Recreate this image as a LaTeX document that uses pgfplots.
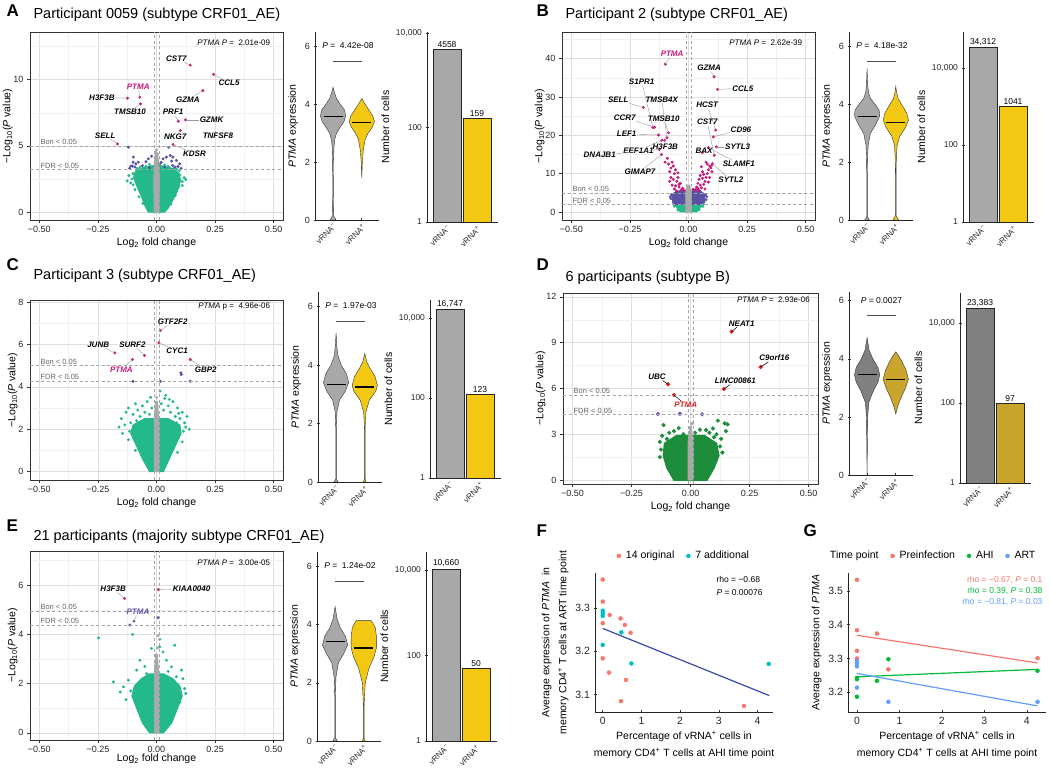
\documentclass[border=0pt]{standalone}
\usepackage{fontspec}
\setmainfont{Liberation Sans}
\usepackage{pgfplots}
\pgfplotsset{compat=1.18}
\newcommand{\fs}[1]{\fontsize{#1}{#1}\selectfont}
\definecolor{vgreen}{HTML}{23B98B}
\definecolor{vpurple}{HTML}{5A51A6}
\definecolor{vmag}{HTML}{C8177A}
\definecolor{vgraypt}{HTML}{A9A9A9}
\definecolor{dgreen}{HTML}{1D8D3C}
\definecolor{dred}{HTML}{E3211C}
\definecolor{dpurple}{HTML}{7B50B0}
\definecolor{vlgray}{HTML}{A8A8A8}
\definecolor{vyel}{HTML}{F2C813}
\definecolor{dgray}{HTML}{808080}
\definecolor{dgold}{HTML}{C9A52B}
\definecolor{fred}{HTML}{F8766D}
\definecolor{fteal}{HTML}{00BFC4}
\definecolor{fblue}{HTML}{3949AB}
\definecolor{ggreen}{HTML}{00BA38}
\definecolor{gblue}{HTML}{619CFF}
\tikzset{glabel/.style={font=\fs{8}\bfseries\itshape, inner sep=0.8pt},
  refl/.style={black!35, line width=0.6pt, dash pattern=on 3pt off 2.5pt}}
\newcommand{\glab}[4][black]{\node[glabel, text=#1] (g) at (axis cs:#2) {#4}; \draw[black!40, line width=0.4pt] (g) -- (axis cs:#3);}
\newcommand{\glabk}[4][black]{\node[glabel, text=#1] (g) at (axis cs:#2) {#4}; \draw[black, line width=0.5pt] (g) -- (axis cs:#3);}
\newcommand{\vls}{\draw[refl] ({axis cs:-0.011,0}|-{rel axis cs:0,0}) -- ({axis cs:-0.011,0}|-{rel axis cs:0,1}); \draw[refl] ({axis cs:0.011,0}|-{rel axis cs:0,0}) -- ({axis cs:0.011,0}|-{rel axis cs:0,1});}
\newcommand{\hls}[1]{\draw[refl] ({rel axis cs:0,0}|-{axis cs:0,#1}) -- ({rel axis cs:1,0}|-{axis cs:0,#1});}
\newcommand{\bonfdr}[2]{\hls{#1}\hls{#2}\node[anchor=south west, font=\fs{7.5}, text=black!60, inner sep=1pt] at (axis cs:-0.5,#1) {Bon < 0.05};\node[anchor=south west, font=\fs{7.5}, text=black!60, inner sep=1pt] at (axis cs:-0.5,#2) {FDR < 0.05};}
\pgfplotsset{
 /pgf/number format/assume math mode=true,
 base/.style={scale only axis, anchor=south west, tick align=outside, major tick length=3pt,
   tick style={black!80, line width=0.6pt}, ticklabel style={font=\fs{9}, text=black!85},
   label style={font=\fs{10.5}}},
 volc/.style={base, width=253pt, height=188pt, xmin=-0.54, xmax=0.54,
   axis line style={black!80, line width=0.9pt},
   grid=both, major grid style={black!13, line width=0.6pt}, minor grid style={black!6, line width=0.4pt},
   xtick={-0.5,-0.25,0,0.25,0.5}, minor xtick={-0.375,-0.125,0.125,0.375},
   xticklabels={−0.50,−0.25,0.00,0.25,0.50},
   tick pos=left, minor tick length=0pt,
   xlabel={Log\textsubscript{2} fold change}, xlabel style={yshift=2pt},
   ylabel={−Log\textsubscript{10}(\textit{P} value)}, ylabel shift=-6pt,
   clip mode=individual},
 mk/.style={only marks, mark=*, mark size=#1, mark options={draw=none}}, mk/.default=1.3pt,
 viol/.style={base, width=64pt, height=188pt, xmin=0.37, xmax=2.6, ymin=0, ymax=6.5,
   axis x line=bottom, axis y line=left, axis line style={-, black!85, line width=0.7pt},
   xtick={1,2}, xticklabels={vRNA\textsuperscript{−},vRNA\textsuperscript{+}},
   x tick label style={rotate=45, anchor=north east, font=\fs{8}, inner sep=1pt},
   ytick={0,2,4,6}, ylabel={\textit{PTMA} expression}, clip=false},
 cntbar/.style={base, width=71pt, xmin=0.333, xmax=2.7, ymin=1,
   axis x line=bottom, axis y line=left, axis line style={-, black!85, line width=0.7pt},
   xtick={1,2}, xticklabels={vRNA\textsuperscript{−},vRNA\textsuperscript{+}},
   x tick label style={rotate=45, anchor=north east, font=\fs{8}, inner sep=1pt},
   ytick={1,100,10000}, yticklabels={1,100,{10,000}}, y tick label style={font=\fs{8.5}},
   ylabel={Number of cells}},
 sc/.style={base, axis x line=bottom, axis y line=left, axis line style={-, black!85, line width=0.7pt},
   ticklabel style={font=\fs{10.5}}, label style={font=\fontsize{10.5}{17}\selectfont, align=center}, clip=false,
   legend style={draw=none, fill=none, legend columns=-1, anchor=south, font=\fs{10.5},
     /tikz/every odd column/.append style={column sep=3pt},
     /tikz/every even column/.append style={column sep=10pt}}},
}
\newcommand{\gbar}[6]{%
 \addplot[ybar, bar width=28pt, bar shift=0pt, fill=#1, draw=black!85, line width=0.5pt] coordinates {(1,#3)};
 \addplot[ybar, bar width=28pt, bar shift=0pt, fill=#2, draw=black!85, line width=0.5pt] coordinates {(2,#5)};
 \node[anchor=south, font=\fs{8.5}, inner sep=1.5pt] at (axis cs:1,#3) {#4};
 \node[anchor=south, font=\fs{8.5}, inner sep=1.5pt] at (axis cs:2,#5) {#6};}
\begin{document}
\begin{tikzpicture}
\path[use as bounding box] (0,0) rectangle (1050pt,770pt);
% ================= A volcano
\begin{axis}[volc, at={(30pt,550pt)}, ymin=-0.6, ymax=13.6, ytick={0,5,10}, minor ytick={2.5,7.5,12.5}]
\addplot[fill=vgreen, draw=vgreen, line width=1pt] coordinates {(-0.035,0) (-0.05,0.5) (-0.065,1.2) (-0.085,2.0) (-0.098,2.6) (-0.09,3.1) (-0.06,3.35) (-0.02,3.5) (0.02,3.5) (0.06,3.35) (0.095,3.0) (0.103,2.4) (0.09,1.6) (0.07,0.9) (0.05,0.3) (0.035,0)} -- cycle;
\addplot[mk, vgreen] coordinates {(-0.105,2.5) (-0.11,2.2) (-0.1,2.9) (-0.082,3.3) (0.1,2.8) (0.11,2.3) (0.098,3.15) (0.095,1.9) (-0.092,1.7) (-0.075,1.15) (0.08,1.25) (0.062,0.6) (-0.058,0.65) (0.118,2.6) (-0.118,2.75) (0.05,3.45) (-0.045,3.45) (-0.07,3.4) (0.075,3.3) (0.035,3.55) (-0.03,3.6) (0.11,2.0) (-0.1,2.05) (0.085,3.25) (0.125,2.45) (-0.125,2.35)};
\addplot[fill=vgraypt, draw=vgraypt, line width=0.8pt] coordinates {(-0.01,0) (-0.012,2.5) (-0.009,3.8) (-0.004,4.6) (0.003,4.5) (0.009,3.8) (0.012,2.5) (0.01,0)} -- cycle;
\addplot[mk, vgraypt] coordinates {(0.0,4.7) (0.005,4.35) (-0.006,4.1) (0.006,3.95)};
\addplot[mk, vpurple] coordinates {(-0.12,4.9) (-0.099,4.15) (-0.103,3.47) (-0.088,3.64) (-0.021,4.22) (-0.035,4.02) (0.028,4.02) (0.042,4.15) (0.07,4.15) (0.099,3.64) (0.052,4.9) (0.059,4.27) (0.085,3.9) (0.078,3.4) (-0.092,3.4) (-0.078,3.77) (-0.1,3.77) (0.014,3.64) (0.035,3.4) (0.068,3.52) (0.092,3.44) (-0.11,3.47) (-0.06,3.5) (-0.045,3.8) (0.02,3.75) (0.105,3.3) (-0.115,3.3) (0.065,3.85) (-0.03,3.35)};
\addplot[mk, vmag] coordinates {(-0.167,5.15) (-0.124,8.6) (-0.071,8.67) (-0.069,8.17) (0.144,11.1) (0.244,10.4) (0.198,9.17) (0.093,6.86) (0.124,6.96) (0.102,6.16) (0.071,5.1)};
\vls \bonfdr{5}{3.2}
\glab{0.085,11.6}{0.144,11.1}{CST7}
\glab{0.31,9.75}{0.244,10.4}{CCL5}
\glab{0.134,8.5}{0.198,9.17}{GZMA}
\glab[vmag]{-0.078,9.45}{-0.071,8.67}{PTMA}
\glab{-0.233,8.65}{-0.124,8.6}{H3F3B}
\glab{-0.113,7.55}{-0.069,8.17}{TMSB10}
\glab{0.071,7.55}{0.093,6.86}{PRF1}
\glab{0.235,6.96}{0.124,6.96}{GZMK}
\glab{0.08,5.7}{0.102,6.16}{NKG7}
\node[glabel] at (axis cs:0.262,5.75) {TNFSF8};
\glab{0.162,4.4}{0.071,5.1}{KDSR}
\glab{-0.219,5.8}{-0.167,5.15}{SELL}
\node[anchor=east, font=\fs{8}] at (axis cs:0.5,12.75) {\textit{PTMA} \textit{P} = ~2.01e-09};
\end{axis}
\begin{axis}[viol, at={(315pt,550pt)}]
\addplot[fill=vlgray, draw=black!80, line width=0.4pt] coordinates {(1.10,0) (1.02,0.15) (1.01,1.0) (1.015,2.0) (1.03,2.5) (1.06,2.8) (1.12,3.0) (1.24,3.2) (1.38,3.4) (1.44,3.6) (1.40,3.8) (1.25,4.0) (1.12,4.2) (1.05,4.4) (1.0,4.59) (0.95,4.4) (0.88,4.2) (0.75,4.0) (0.60,3.8) (0.56,3.6) (0.62,3.4) (0.76,3.2) (0.88,3.0) (0.94,2.8) (0.97,2.5) (0.985,2.0) (0.99,1.0) (0.98,0.15) (0.90,0)} -- cycle;
\addplot[fill=vyel, draw=black!80, line width=0.4pt] coordinates {(2.0,1.45) (2.02,2.0) (2.05,2.4) (2.12,2.8) (2.22,3.0) (2.36,3.2) (2.44,3.4) (2.38,3.6) (2.25,3.8) (2.12,4.0) (2.0,4.2) (1.88,4.0) (1.75,3.8) (1.62,3.6) (1.56,3.4) (1.64,3.2) (1.78,3.0) (1.88,2.8) (1.95,2.4) (1.98,2.0)} -- cycle;
\addplot[black, line width=1.1pt] coordinates {(0.67,3.59) (1.33,3.59)};
\addplot[black, line width=1.1pt] coordinates {(1.67,3.38) (2.33,3.38)};
\addplot[black!70, line width=0.6pt] coordinates {(1,5.5) (2,5.5)};
\node[anchor=west, font=\fs{8.5}] at (axis cs:0.5,6.03) {\textit{P} = ~4.42e-08};
\end{axis}
\begin{semilogyaxis}[cntbar, at={(427pt,548pt)}, height=190pt, ymax=10500]
\gbar{vlgray}{vyel}{4558}{4558}{159}{159}
\end{semilogyaxis}
% ================= B volcano
\begin{axis}[volc, at={(562pt,550pt)}, ymin=-2.1, ymax=47, ytick={0,10,20,30,40}, minor ytick={5,15,25,35,45}]
\addplot[fill=vgreen, draw=vgreen, line width=1pt] coordinates {(-0.035,0) (-0.048,1) (-0.058,2) (0.058,2) (0.048,1) (0.035,0)} -- cycle;
\addplot[mk, vgreen] coordinates {(-0.06,1.5) (0.06,1.4) (-0.045,0.5) (0.045,0.6) (-0.062,1.9) (0.063,1.95)};
\addplot[fill=vpurple, draw=vpurple, line width=1pt] coordinates {(-0.058,2) (-0.068,3) (-0.07,4) (-0.062,5) (-0.035,5.6) (0.035,5.6) (0.062,5) (0.07,4) (0.068,3) (0.058,2)} -- cycle;
\addplot[mk, vpurple] coordinates {(-0.075,3.5) (0.075,3.2) (-0.072,4.5) (0.072,4.6) (-0.065,2.5) (0.066,2.6) (-0.05,5.3) (0.05,5.3) (0.078,4.0) (-0.078,4.0)};
\addplot[fill=vgraypt, draw=vgraypt, line width=0.8pt] coordinates {(-0.011,0) (-0.012,5) (-0.005,7) (0.005,7) (0.012,5) (0.011,0)} -- cycle;
\addplot[mk, vmag] coordinates {(-0.03,5.8) (-0.04,6.5) (-0.035,7.5) (-0.05,8) (-0.045,9) (-0.06,10) (-0.055,11) (-0.065,12) (-0.07,13) (-0.075,11.5) (-0.08,10.5) (-0.06,6) (-0.05,5.5) (-0.07,7) (-0.085,12.5) (-0.09,14) (-0.1,13) (-0.075,9) (-0.025,6.2) (-0.04,7.2) (-0.065,8.5) (-0.055,6.8) (-0.08,8) (-0.045,10.2) (-0.02,5.7) (0.03,5.8) (0.035,6.5) (0.04,7.5) (0.045,8.5) (0.05,9.5) (0.06,10.5) (0.055,6.3) (0.065,7.2) (0.07,8) (0.075,9) (0.08,10) (0.085,11) (0.09,12) (0.095,11.5) (0.1,10.5) (0.08,12.5) (0.05,7) (0.06,8.8) (0.07,6) (0.045,5.6) (0.1,12.2) (0.085,7.8) (0.02,5.9) (0.04,6.1) (0.065,9.8) (0.09,9) (0.055,11.8) (0.075,13) (-0.099,38.6) (0.109,35.3) (0.124,32) (-0.152,22.1) (-0.193,27.3) (-0.092,19.4) (-0.145,22.1) (-0.085,20.7) (-0.128,20.1) (-0.114,18.7) (-0.102,18.7) (-0.125,16.3) (-0.115,15.0) (0.116,21.4) (0.11,14.8) (0.106,19.6) (0.119,17) (0.06,15.5) (0.085,16.8) (0.102,12.6)};
\vls \bonfdr{5}{1.9}
\glab[vmag]{-0.07,41.2}{-0.099,38.6}{PTMA}
\glab{0.088,37.6}{0.109,35.3}{GZMA}
\glab{0.232,32.3}{0.124,32}{CCL5}
\glab{-0.2,34}{-0.152,22.1}{S1PR1}
\glab{-0.3,29.2}{-0.193,27.3}{SELL}
\glab{-0.114,29.4}{-0.092,19.4}{TMSB4X}
\glab{-0.272,24.7}{-0.145,22.1}{CCR7}
\glab{-0.106,24.4}{-0.085,20.7}{TMSB10}
\glab{-0.264,20.3}{-0.128,20.1}{LEF1}
\glab{-0.214,16.1}{-0.114,18.7}{EEF1A1}
\glab{-0.099,17}{-0.102,18.7}{H3F3B}
\glab{-0.379,14.8}{-0.125,16.3}{DNAJB1}
\glab{-0.207,10.5}{-0.115,15.0}{GIMAP7}
\glab{0.08,27.9}{0.116,21.4}{HCST}
\glab{0.08,23.5}{0.11,14.8}{CST7}
\glab{0.224,21.5}{0.106,19.6}{CD96}
\glab{0.21,17}{0.119,17}{SYTL3}
\glab{0.066,16}{0.06,15.5}{BAX}
\glab{0.215,12.6}{0.085,16.8}{SLAMF1}
\glab{0.181,8.3}{0.102,12.6}{SYTL2}
\node[anchor=east, font=\fs{8}] at (axis cs:0.5,44.2) {\textit{PTMA} \textit{P} = ~2.62e-39};
\end{axis}
\begin{axis}[viol, at={(849pt,550pt)}]
\addplot[fill=vlgray, draw=black!80, line width=0.4pt] coordinates {(1.08,0) (1.01,0.12) (1.01,1.5) (1.02,2.2) (1.04,2.6) (1.12,3.0) (1.30,3.3) (1.44,3.6) (1.42,3.8) (1.28,4.0) (1.12,4.2) (1.05,4.4) (1.02,4.7) (1.0,5.24) (0.98,4.7) (0.95,4.4) (0.88,4.2) (0.72,4.0) (0.58,3.8) (0.56,3.6) (0.70,3.3) (0.88,3.0) (0.96,2.6) (0.98,2.2) (0.99,1.5) (0.99,0.12) (0.92,0)} -- cycle;
\addplot[fill=vyel, draw=black!80, line width=0.4pt] coordinates {(2.10,0) (2.01,0.15) (2.01,1.5) (2.02,2.2) (2.05,2.6) (2.14,2.9) (2.34,3.2) (2.44,3.45) (2.38,3.7) (2.20,4.0) (2.08,4.2) (2.03,4.4) (2.0,4.62) (1.97,4.4) (1.92,4.2) (1.80,4.0) (1.62,3.7) (1.56,3.45) (1.66,3.2) (1.86,2.9) (1.95,2.6) (1.98,2.2) (1.99,1.5) (1.99,0.15) (1.90,0)} -- cycle;
\addplot[black, line width=1.1pt] coordinates {(0.67,3.59) (1.33,3.59)};
\addplot[black, line width=1.1pt] coordinates {(1.67,3.38) (2.33,3.38)};
\addplot[black!70, line width=0.6pt] coordinates {(1,5.5) (2,5.5)};
\node[anchor=west, font=\fs{8.5}] at (axis cs:0.5,6.03) {\textit{P} = ~4.18e-32};
\end{axis}
\begin{semilogyaxis}[cntbar, at={(963pt,548pt)}, height=190pt, ymax=86000]
\gbar{vlgray}{vyel}{34312}{34,312}{1041}{1041}
\end{semilogyaxis}
% ================= C volcano
\begin{axis}[volc, at={(30pt,290pt)}, height=180pt, ymin=-0.4, ymax=8.1, ytick={0,2,4,6,8}, minor ytick={1,3,5,7}]
\addplot[fill=vgreen, draw=vgreen, line width=1pt] coordinates {(-0.03,0) (-0.06,0.6) (-0.085,1.2) (-0.11,1.8) (-0.1,2.2) (-0.05,2.5) (0.05,2.5) (0.1,2.2) (0.105,1.8) (0.08,1.2) (0.055,0.6) (0.03,0)} -- cycle;
\addplot[mk, vgreen] coordinates {(-0.16,2.1) (-0.15,2.5) (-0.13,2.8) (-0.12,3.0) (-0.11,2.3) (-0.1,2.7) (-0.09,3.2) (-0.08,2.9) (-0.07,2.6) (-0.06,3.1) (-0.05,2.8) (-0.04,3.3) (-0.03,2.7) (-0.02,3.0) (0.02,3.2) (0.03,2.9) (0.04,3.6) (0.05,3.1) (0.06,2.8) (0.07,3.3) (0.08,2.6) (0.09,3.0) (0.1,2.5) (0.11,2.8) (0.12,2.3) (0.13,2.6) (0.015,3.8) (-0.115,1.9) (0.115,1.9) (-0.135,2.2) (0.125,2.1) (-0.085,2.4) (0.085,2.3) (-0.145,1.8) (0.14,2.0) (0.055,3.4) (-0.055,2.4) (0.035,3.45) (-0.025,3.5) (0.095,2.75) (-0.12,1.5) (0.11,1.4) (-0.09,1.0) (0.09,0.9)};
\addplot[fill=vgraypt, draw=vgraypt, line width=0.8pt] coordinates {(-0.01,0) (-0.01,2.5) (-0.004,3.3) (0.004,3.3) (0.01,2.5) (0.01,0)} -- cycle;
\addplot[mk, vgraypt] coordinates {(0.0,3.5) (0.003,3.1)};
\addplot[mk, vpurple] coordinates {(-0.1,4.26) (0.016,4.26) (0.104,4.66) (0.144,4.26) (0.106,4.58)};
\addplot[mk, vmag] coordinates {(0.016,6.66) (-0.178,5.6) (-0.051,5.48) (0.01,6.08) (-0.103,5.29) (0.144,5.29)};
\vls \bonfdr{5}{4.27}
\glab{0.069,7.06}{0.016,6.66}{GTF2F2}
\glab{-0.249,6.0}{-0.178,5.6}{JUNB}
\glab{-0.103,6.0}{-0.051,5.48}{SURF2}
\glab{0.088,5.7}{0.01,6.08}{CYC1}
\glab[vmag]{-0.15,4.8}{-0.103,5.29}{PTMA}
\glab{0.21,4.82}{0.144,5.29}{GBP2}
\node[anchor=east, font=\fs{8}] at (axis cs:0.5,7.8) {\textit{PTMA} p = ~4.96e-06};
\end{axis}
\begin{axis}[viol, at={(318pt,288pt)}, height=190pt]
\addplot[fill=vlgray, draw=black!80, line width=0.4pt] coordinates {(1.07,0) (1.01,0.1) (1.01,1.8) (1.03,2.4) (1.12,2.8) (1.32,3.1) (1.44,3.4) (1.36,3.7) (1.18,4.0) (1.07,4.3) (1.03,4.6) (1.0,5.1) (0.97,4.6) (0.93,4.3) (0.82,4.0) (0.64,3.7) (0.56,3.4) (0.68,3.1) (0.88,2.8) (0.97,2.4) (0.99,1.8) (0.99,0.1) (0.93,0)} -- cycle;
\addplot[fill=vyel, draw=black!80, line width=0.4pt] coordinates {(2.05,0) (2.01,0.1) (2.01,1.8) (2.04,2.4) (2.16,2.8) (2.38,3.1) (2.44,3.3) (2.36,3.6) (2.18,3.9) (2.07,4.1) (2.0,4.4) (1.93,4.1) (1.82,3.9) (1.64,3.6) (1.56,3.3) (1.62,3.1) (1.84,2.8) (1.96,2.4) (1.99,1.8) (1.99,0.1) (1.95,0)} -- cycle;
\addplot[black, line width=1.1pt] coordinates {(0.67,3.35) (1.33,3.35)};
\addplot[black, line width=1.1pt] coordinates {(1.67,3.25) (2.33,3.25)};
\addplot[black!70, line width=0.6pt] coordinates {(1,5.5) (2,5.5)};
\node[anchor=west, font=\fs{8.5}] at (axis cs:0.5,6.03) {\textit{P} = ~1.97e-03};
\end{axis}
\begin{semilogyaxis}[cntbar, at={(430pt,292pt)}, height=178pt, ymax=28200]
\gbar{vlgray}{vyel}{16747}{16,747}{123}{123}
\end{semilogyaxis}
% ================= D volcano
\begin{axis}[volc, at={(563pt,286pt)}, width=255pt, height=191pt, ymin=-0.26, ymax=12.25, ytick={0,3,6,9,12}, minor ytick={1.5,4.5,7.5,10.5}]
\addplot[fill=dgreen, draw=dgreen, line width=1.5pt] coordinates {(-0.07,0) (-0.1,0.8) (-0.115,1.6) (-0.11,2.4) (-0.06,2.9) (0.06,2.9) (0.11,2.4) (0.12,1.6) (0.1,0.8) (0.07,0)} -- cycle;
\addplot[mk=1.9pt, dgreen] coordinates {(-0.114,3.6) (0.116,3.89) (0.145,3.71) (0.157,3.65) (0.095,3.38) (0.066,3.28) (-0.12,2.9) (-0.13,2.5) (-0.125,2.0) (0.125,2.2) (0.13,2.7) (0.11,3.0) (-0.09,3.1) (-0.07,3.2) (0.04,3.3) (0.02,3.1) (-0.03,3.0) (0.08,3.1) (-0.1,2.7) (0.1,2.8) (0.135,1.8) (-0.13,1.5) (0.15,3.2) (-0.05,3.4)};
\addplot[fill=vgraypt, draw=vgraypt, line width=0.8pt] coordinates {(-0.01,0) (-0.01,2.5) (-0.004,3.5) (0.004,3.5) (0.01,2.5) (0.01,0)} -- cycle;
\addplot[mk=1.9pt, vgraypt] coordinates {(0.006,3.7)};
\addplot[mk=1.9pt, dpurple] coordinates {(-0.138,4.32) (-0.045,4.34) (0.049,4.3)};
\addplot[mk=1.9pt, dred] coordinates {(0.174,9.72) (-0.095,6.27) (-0.07,5.57) (0.141,5.96) (0.297,7.4)};
\vls \bonfdr{5.57}{4.3}
\glabk{0.217,10.26}{0.174,9.72}{NEAT1}
\glabk{-0.142,6.77}{-0.095,6.27}{UBC}
\glabk[dred]{-0.02,4.91}{-0.07,5.57}{PTMA}
\glabk{0.19,6.5}{0.141,5.96}{LINC00861}
\glabk{0.355,8.0}{0.297,7.4}{C9orf16}
\node[anchor=east, font=\fs{8}] at (axis cs:0.52,11.8) {\textit{PTMA} \textit{P} = ~2.93e-06};
\end{axis}
\begin{axis}[viol, at={(849pt,295pt)}, height=183pt, ymax=6.3]
\addplot[fill=dgray, draw=black!80, line width=0.4pt] coordinates {(1.0,0) (1.01,1.0) (1.02,2.0) (1.06,2.5) (1.22,2.9) (1.38,3.2) (1.44,3.45) (1.38,3.7) (1.20,4.0) (1.07,4.3) (1.0,4.73) (0.93,4.3) (0.80,4.0) (0.62,3.7) (0.56,3.45) (0.62,3.2) (0.78,2.9) (0.94,2.5) (0.98,2.0) (0.99,1.0)} -- cycle;
\addplot[fill=dgold, draw=black!80, line width=0.4pt] coordinates {(2.0,2.1) (2.08,2.4) (2.20,2.7) (2.34,3.0) (2.44,3.3) (2.36,3.6) (2.22,3.9) (2.10,4.1) (2.0,4.24) (1.90,4.1) (1.78,3.9) (1.64,3.6) (1.56,3.3) (1.66,3.0) (1.80,2.7) (1.92,2.4)} -- cycle;
\addplot[black, line width=1.1pt] coordinates {(0.67,3.46) (1.33,3.46)};
\addplot[black, line width=1.1pt] coordinates {(1.67,3.28) (2.33,3.28)};
\addplot[black!70, line width=0.6pt] coordinates {(1,5.5) (2,5.5)};
\node[font=\fs{8.5}] at (axis cs:1.5,6.0) {\textit{P} = 0.0027};
\end{axis}
\begin{semilogyaxis}[cntbar, at={(960pt,287pt)}, height=190pt, ymax=56200]
\gbar{dgray}{dgold}{23383}{23,383}{97}{97}
\end{semilogyaxis}
% ================= E volcano
\begin{axis}[volc, at={(30pt,30pt)}, height=189pt, ymin=-0.29, ymax=7.39, ytick={0,2,4,6}, minor ytick={1,3,5,7}, xlabel style={yshift=4pt}]
\addplot[fill=vgreen, draw=vgreen, line width=1pt] coordinates {(-0.03,0) (-0.06,0.4) (-0.085,1.0) (-0.105,1.5) (-0.095,1.9) (-0.065,2.2) (-0.03,2.4) (0.03,2.4) (0.07,2.2) (0.1,1.9) (0.11,1.5) (0.09,1.0) (0.065,0.4) (0.03,0)} -- cycle;
\addplot[mk, vgreen] coordinates {(-0.247,3.86) (-0.102,4.0) (0.078,3.56) (-0.071,2.95) (-0.184,2.07) (-0.155,1.66) (0.12,1.8) (0.113,2.2) (0.042,2.95) (0.064,2.68) (0.028,3.29) (0.014,3.5) (-0.021,3.43) (-0.042,2.41) (-0.085,2.55) (-0.12,2.14) (0.085,2.28) (0.106,2.55) (-0.141,1.87) (0.014,3.8) (-0.05,2.7) (0.05,2.5) (-0.11,1.7) (0.125,1.6) (-0.13,1.35) (0.1,1.25)};
\addplot[fill=vgraypt, draw=vgraypt, line width=0.8pt] coordinates {(-0.008,0) (-0.008,2.6) (-0.004,3.2) (0.004,3.2) (0.008,2.6) (0.008,0)} -- cycle;
\addplot[mk, vgraypt] coordinates {(0.007,3.95) (0.005,3.45)};
\addplot[mk, vpurple] coordinates {(0.006,4.68) (-0.114,4.38) (-0.096,4.54)};
\addplot[mk, vmag] coordinates {(-0.136,5.46) (0.008,5.82)};
\vls \bonfdr{4.95}{4.38}
\glab{-0.185,5.86}{-0.136,5.46}{H3F3B}
\glab{0.15,5.84}{0.008,5.82}{KIAA0040}
\glab[vpurple]{-0.079,4.91}{-0.096,4.54}{PTMA}
\node[anchor=east, font=\fs{8}] at (axis cs:0.5,6.9) {\textit{PTMA} \textit{P} = ~3.00e-05};
\end{axis}
\begin{axis}[viol, at={(317pt,29pt)}, height=189pt]
\addplot[fill=vlgray, draw=black!80, line width=0.4pt] coordinates {(1.08,0) (1.01,0.12) (1.01,1.5) (1.03,2.2) (1.12,2.7) (1.30,3.0) (1.44,3.3) (1.36,3.6) (1.18,3.9) (1.07,4.2) (1.0,4.62) (0.93,4.2) (0.82,3.9) (0.64,3.6) (0.56,3.3) (0.70,3.0) (0.88,2.7) (0.97,2.2) (0.99,1.5) (0.99,0.12) (0.92,0)} -- cycle;
\addplot[fill=vyel, draw=black!80, line width=0.4pt] coordinates {(2.05,0) (2.01,0.1) (2.01,1.2) (2.05,2.0) (2.18,2.5) (2.36,2.9) (2.44,3.2) (2.44,3.6) (2.40,3.9) (2.32,4.05) (2.26,4.14) (1.74,4.14) (1.68,4.05) (1.60,3.9) (1.56,3.6) (1.56,3.2) (1.64,2.9) (1.82,2.5) (1.95,2.0) (1.99,1.2) (1.99,0.1) (1.95,0)} -- cycle;
\addplot[black, line width=1.1pt] coordinates {(0.67,3.41) (1.33,3.41)};
\addplot[black, line width=1.1pt] coordinates {(1.67,3.2) (2.33,3.2)};
\addplot[black!70, line width=0.6pt] coordinates {(1,5.5) (2,5.5)};
\node[anchor=west, font=\fs{8.5}] at (axis cs:0.5,6.03) {\textit{P} = ~1.24e-02};
\end{axis}
\begin{semilogyaxis}[cntbar, at={(426pt,29pt)}, height=189pt, ymax=26300]
\gbar{vlgray}{vyel}{10660}{10,660}{50}{50}
\end{semilogyaxis}
% ================= F
\begin{axis}[sc, at={(595pt,58pt)}, width=178pt, height=139pt, xmin=-0.2, xmax=4.4, ymin=3.06, ymax=3.381,
  xtick={0,1,2,3,4}, ytick={3.1,3.2,3.3}, yticklabel style={/pgf/number format/.cd, fixed, precision=1, fixed zerofill},
  legend style={at={(0.5,1.06)}},
  xlabel={Percentage of vRNA\textsuperscript{+} cells in\\memory CD4\textsuperscript{+} T cells at AHI time point},
  ylabel={Average expression of \textit{PTMA}~ in\\memory CD4\textsuperscript{+} T cells at ART time point}]
\addplot[mk=2pt, fred] coordinates {(0,3.366) (0,3.315) (0,3.265) (0,3.184) (0.18,3.284) (0.46,3.276) (0.57,3.261) (0.72,3.243) (0.16,3.151) (0.6,3.134) (0.47,3.085) (3.65,3.074)};
\addlegendentry{14 original}
\addplot[mk=2pt, fteal] coordinates {(0,3.294) (0,3.288) (0,3.282) (0,3.215) (0.48,3.244) (0.74,3.172) (4.29,3.171)};
\addlegendentry{7 additional}
\addplot[fblue, line width=1.2pt, forget plot] coordinates {(0,3.253) (4.3,3.098)};
\node[anchor=west, font=\fs{8.5}] at (axis cs:2.85,3.365) {rho = −0.68};
\node[anchor=west, font=\fs{8.5}] at (axis cs:2.85,3.335) {\textit{P} = 0.00076};
\end{axis}
% ================= G
\begin{axis}[sc, at={(848pt,58pt)}, width=198pt, height=139pt, xmin=-0.21, xmax=4.45, ymin=3.142, ymax=3.553,
  xtick={0,1,2,3,4}, ytick={3.2,3.3,3.4,3.5}, yticklabel style={/pgf/number format/.cd, fixed, precision=1, fixed zerofill},
  legend style={at={(0.42,1.06)}},
  xlabel={Percentage of vRNA\textsuperscript{+} cells in\\memory CD4\textsuperscript{+} T cells at AHI time point},
  ylabel={Average expression of \textit{PTMA}}]
\addlegendimage{empty legend}
\addlegendentry{Time point}
\addplot[mk=2pt, fred] coordinates {(0,3.533) (0,3.384) (0,3.323) (0,3.300) (0.47,3.374) (0.74,3.268) (4.25,3.301)};
\addlegendentry{Preinfection}
\addplot[mk=2pt, ggreen] coordinates {(0,3.239) (0,3.243) (0,3.187) (0.47,3.234) (0.74,3.298) (4.25,3.264)};
\addlegendentry{AHI}
\addplot[mk=2pt, gblue] coordinates {(0,3.293) (0,3.285) (0,3.277) (0,3.214) (0.74,3.172) (4.25,3.172)};
\addlegendentry{ART}
\addplot[fred, line width=1.2pt, forget plot] coordinates {(0,3.369) (4.25,3.287)};
\addplot[ggreen, line width=1.2pt, forget plot] coordinates {(0,3.246) (4.25,3.268)};
\addplot[gblue, line width=1.2pt, forget plot] coordinates {(0,3.256) (4.25,3.160)};
\node[anchor=east, font=\fs{8.5}, text=fred] at (axis cs:4.45,3.533) {rho = −0.67, \textit{P} = 0.1};
\node[anchor=east, font=\fs{8.5}, text=ggreen] at (axis cs:4.45,3.500) {rho = 0.39, \textit{P} = 0.38};
\node[anchor=east, font=\fs{8.5}, text=gblue] at (axis cs:4.45,3.467) {rho = −0.81, \textit{P} = 0.03};
\end{axis}
% ================= titles
\node[anchor=base west, font=\fs{17}\bfseries] at (3pt,753pt) {A};
\node[anchor=base west, font=\fs{14.5}] at (30pt,751pt) {Participant 0059 (subtype CRF01\_AE)};
\node[anchor=base west, font=\fs{17}\bfseries] at (533pt,753pt) {B};
\node[anchor=base west, font=\fs{14.5}] at (562pt,751pt) {Participant 2 (subtype CRF01\_AE)};
\node[anchor=base west, font=\fs{17}\bfseries] at (3pt,499pt) {C};
\node[anchor=base west, font=\fs{14.5}] at (30pt,490pt) {Participant 3 (subtype CRF01\_AE)};
\node[anchor=base west, font=\fs{17}\bfseries] at (533pt,499pt) {D};
\node[anchor=base west, font=\fs{14.5}] at (562pt,488pt) {6 participants (subtype B)};
\node[anchor=base west, font=\fs{17}\bfseries] at (3pt,238pt) {E};
\node[anchor=base west, font=\fs{14.5}] at (30pt,229pt) {21 participants (majority subtype CRF01\_AE)};
\node[anchor=base west, font=\fs{17}\bfseries] at (533pt,233pt) {F};
\node[anchor=base west, font=\fs{17}\bfseries] at (800pt,233pt) {G};
\end{tikzpicture}
\end{document}
